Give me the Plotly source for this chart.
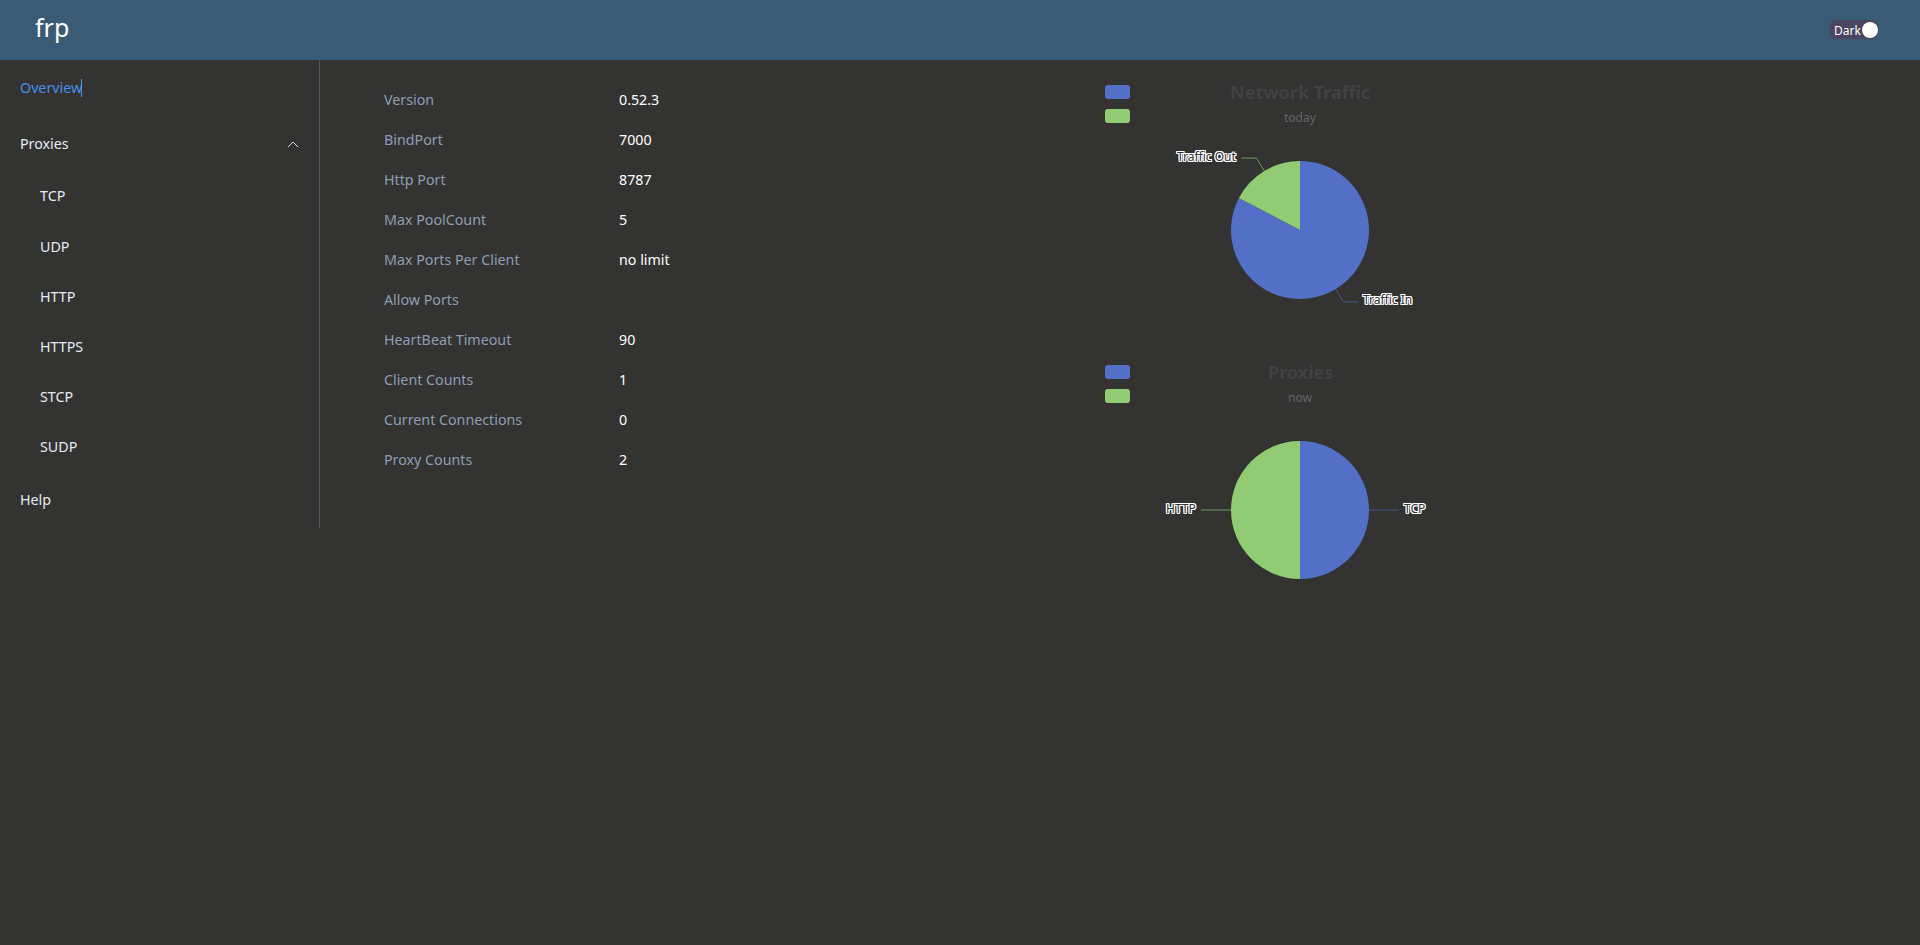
import math
import plotly.graph_objects as go

W, H = 1920, 945
BG = "#333332"
HEADER = "#3a5b75"
BLUE = "#5470c6"
GREEN = "#91cc75"
FONT = "Noto Sans"

# server info table
server_info = [
    ("Version", "0.52.3"),
    ("BindPort", "7000"),
    ("Http Port", "8787"),
    ("Max PoolCount", "5"),
    ("Max Ports Per Client", "no limit"),
    ("Allow Ports", ""),
    ("HeartBeat Timeout", "90"),
    ("Client Counts", "1"),
    ("Current Connections", "0"),
    ("Proxy Counts", "2"),
]

# sidebar menu: text, x, y
menu = [
    ("Proxies", 19, 143.5),
    ("TCP", 39, 196),
    ("UDP", 39, 246.4),
    ("HTTP", 39, 296),
    ("HTTPS", 39, 346.4),
    ("STCP", 39, 396),
    ("SUDP", 39, 446.4),
    ("Help", 19, 499),
]

# pies, values
pies = [
    {"title": "Network Traffic", "sub": "today", "top": 60,
     "labels": ["Traffic In", "Traffic Out"], "values": [82.7, 17.3]},
    {"title": "Proxies", "sub": "now", "top": 340,
     "labels": ["TCP", "HTTP"], "values": [1, 1]},
]
CX, R = 1300, 69

fig = go.Figure()
shapes = []
annotations = []


def px(x):
    return x / W


def py(y):
    return 1 - y / H


def text(x, y, s, size=14.25, color="#ffffff", anchor="left", **font_extra):
    annotations.append(dict(
        x=px(x), y=py(y), xref="paper", yref="paper", text=s, showarrow=False,
        xanchor=anchor, yanchor="middle", borderpad=0,
        font=dict(family=FONT, size=size, color=color, **font_extra),
    ))


def rect(x0, y0, x1, y1, color):
    shapes.append(dict(type="rect", xref="paper", yref="paper", layer="below",
                       x0=px(x0), x1=px(x1), y0=py(y0), y1=py(y1),
                       fillcolor=color, line_width=0))


def rounded(x0, y0, x1, y1, r, color):
    path = (f"M {x0 + r} {y0} L {x1 - r} {y0} Q {x1} {y0} {x1} {y0 + r} "
            f"L {x1} {y1 - r} Q {x1} {y1} {x1 - r} {y1} L {x0 + r} {y1} "
            f"Q {x0} {y1} {x0} {y1 - r} L {x0} {y0 + r} Q {x0} {y0} {x0 + r} {y0} Z")
    shapes.append(dict(type="path", xref="x", yref="y", path=path,
                       fillcolor=color, line_width=0))


def polyline(points, color):
    path = "M " + " L ".join(f"{x} {y}" for x, y in points)
    shapes.append(dict(type="path", xref="x", yref="y", path=path,
                       line=dict(color=color, width=1)))


# header and sidebar
rect(0, 0, W, 60, HEADER)
rect(319, 60, 320, 528, "#55565a")
text(34, 27, "frp", size=25)
text(19, 87, "Overview", color="#4a8fe8")
polyline([(81.5, 79), (81.5, 97)], "#4a8fe8")
for name, x, y in menu:
    text(x, y, name, color="#e5eaf3")
polyline([(288, 147), (293, 142), (298, 147)], "#d5d8dd")

# dark mode switch
rounded(1829, 20, 1879, 39, 9.5, "#4a4560")
shapes.append(dict(type="circle", xref="x", yref="y", x0=1862, x1=1878, y0=22, y1=38,
                   fillcolor="#ffffff", line_width=0))
text(1833, 30, "Dark", size=12)

# info rows
for i, (label, value) in enumerate(server_info):
    y = 99.4 + i * 40
    text(383, y, label, color="#8d9eb2")
    if value:
        text(618, y, value)

# pies with titles, legend swatches and leader lines
halo = ",".join(f"{a}px {b}px 0 #ffffff" for a, b in
                [(1, 0), (-1, 0), (0, 1), (0, -1), (1, 1), (-1, -1), (1, -1), (-1, 1)])
for p in pies:
    top = p["top"]
    cy = top + 170
    fig.add_trace(go.Pie(
        labels=p["labels"], values=p["values"], sort=False, direction="clockwise",
        rotation=0, textinfo="none", hoverinfo="label+percent", showlegend=False,
        marker=dict(colors=[BLUE, GREEN], line_width=0),
        domain=dict(x=[px(CX - R), px(CX + R)], y=[py(cy + R), py(cy - R)]),
    ))
    text(CX, top + 32, p["title"], size=18, color="#424242", anchor="center", weight="bold")
    text(CX, top + 57.5, p["sub"], size=12, color="#666666", anchor="center")
    rounded(1105, top + 25, 1130, top + 39, 3, BLUE)
    rounded(1105, top + 49, 1130, top + 63, 3, GREEN)

    # label position follows from the slice middle angle
    total = sum(p["values"])
    start = 0
    for name, value, color in zip(p["labels"], p["values"], ["#4a5a8a", "#6f9a5e"]):
        mid = math.radians(start + value / total * 180)
        start += value / total * 360
        dx, dy = math.sin(mid), -math.cos(mid)
        sx, sy = CX + dx * R, cy + dy * R
        ex, ey = CX + dx * (R + 15), cy + dy * (R + 15)
        sign = 1 if dx > 0 else -1
        tx = ex + sign * 15
        polyline([(sx, sy), (ex, ey), (tx, ey)], color)
        text(tx + sign * 4, ey - 2, name, size=12, color="#333333",
             anchor="left" if sign > 0 else "right", shadow=halo)

fig.update_layout(
    width=W, height=H,
    margin=dict(l=0, r=0, t=0, b=0),
    paper_bgcolor=BG, plot_bgcolor=BG,
    xaxis=dict(range=[0, W], visible=False, fixedrange=True),
    yaxis=dict(range=[H, 0], visible=False, fixedrange=True),
    shapes=shapes, annotations=annotations, showlegend=False,
)

fig.write_html("out.html", config={"displayModeBar": False},
               post_script="document.body.style.margin='0';document.body.style.overflow='hidden';")
